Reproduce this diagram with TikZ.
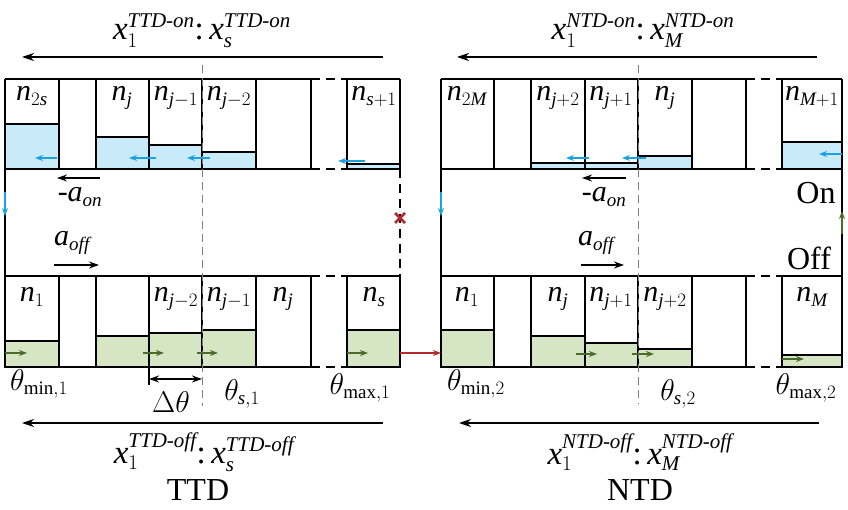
\documentclass[tikz,border=0pt]{standalone}
\usepackage{fix-cm}
\usepackage{amsmath}
\usepackage{fontspec}
\setmainfont{Liberation Serif}
\DeclareMathSizes{30}{30}{19}{14}
\DeclareMathSizes{33}{33}{21}{15}
\newcommand\tv[1]{\mathit{#1}}
\usetikzlibrary{arrows.meta}
\definecolor{bfill}{HTML}{C9EAF8}
\definecolor{barrow}{HTML}{1BA1E2}
\definecolor{gfill}{HTML}{D6E6C4}
\definecolor{garrow}{HTML}{4B6B2B}
\definecolor{rarrow}{HTML}{B22A2E}
\begin{document}
\begin{tikzpicture}[x=1pt,y=-1pt,
  cellline/.style={draw=black,line width=1.1pt},
  gapline/.style={draw=black,line width=1.1pt,dash pattern=on 9pt off 6pt},
  bluebar/.style={fill=bfill,draw=black,line width=1.1pt},
  greenbar/.style={fill=gfill,draw=black,line width=1.1pt},
  mlbl/.style={font=\fontsize{30}{32}\selectfont,inner sep=0pt},
  xlbl/.style={font=\fontsize{33}{35}\selectfont,inner sep=0pt},
  tlbl/.style={font=\fontsize{32}{34}\selectfont,inner sep=0pt},
  bigarrow/.style={line width=1.3pt,-{Stealth[length=12pt,width=8pt]}},
  midarrow/.style={line width=1.3pt,-{Stealth[length=10pt,width=7pt]}},
  barr/.style={draw=barrow,line width=1.4pt,-{Stealth[length=8pt,width=6pt]}},
  garr/.style={draw=garrow,line width=1.4pt,-{Stealth[length=8pt,width=6pt]}},
  sline/.style={draw=gray,line width=0.8pt,dash pattern=on 8pt off 5pt}
]
\useasboundingbox (0,0) rectangle (848,510);

% ---------- fills ----------
\foreach \a/\b/\c in {5/124/59, 96/137/149, 149/145/202, 202/152/256, 347/164/400}
  \draw[bluebar] (\a,\b) rectangle (\c,169);
\foreach \a/\b/\c in {531/163/585, 585/163/638, 638/156/692, 782/142/842}
  \draw[bluebar] (\a,\b) rectangle (\c,169);
\foreach \a/\b/\c in {5/341/59, 96/336/149, 149/333/202, 202/330/256, 347/330/400}
  \draw[greenbar] (\a,\b) rectangle (\c,367);
\foreach \a/\b/\c in {441/330/494, 531/336/585, 585/343/638, 638/349/692, 782/355/842}
  \draw[greenbar] (\a,\b) rectangle (\c,367);

% ---------- left panel grid ----------
\foreach \y in {79,169,276,367} {
  \draw[cellline] (5,\y) -- (311,\y);
  \draw[gapline] (311,\y) -- (347,\y);
  \draw[cellline] (347,\y) -- (400,\y);
}
\foreach \x in {5,59,96,149,202,256,311,347,400} {
  \draw[cellline] (\x,79) -- (\x,169);
  \draw[cellline] (\x,276) -- (\x,367);
}
\draw[cellline] (5,169) -- (5,276);
\draw[gapline] (400,169) -- (400,276);

% ---------- right panel grid ----------
\foreach \y in {79,169,276,367} {
  \draw[cellline] (441,\y) -- (746,\y);
  \draw[gapline] (746,\y) -- (782,\y);
  \draw[cellline] (782,\y) -- (842,\y);
}
\foreach \x in {441,494,531,585,638,692,746,782,842} {
  \draw[cellline] (\x,79) -- (\x,169);
  \draw[cellline] (\x,276) -- (\x,367);
}
\draw[cellline] (441,169) -- (441,276);
\draw[cellline] (842,169) -- (842,276);

% ---------- switching lines ----------
\draw[sline] (202,65) -- (202,406);
\draw[sline] (638,65) -- (638,404);

% ---------- cell labels ----------
\node[mlbl,anchor=base] (l2s) at (32,101) {$\tv{n}_{2\tv{s}}$};
\node[mlbl,anchor=base] (ljt) at (122,101) {$\tv{n}_{\tv{j}}$};
\node[mlbl,anchor=base] (ljm1t) at (176,101) {$\tv{n}_{\tv{j}-1}$};
\node[mlbl,anchor=base] (ljm2t) at (229,101) {$\tv{n}_{\tv{j}-2}$};
\node[mlbl,anchor=base] (lsp1) at (374,101) {$\tv{n}_{\tv{s}+1}$};
\node[mlbl,anchor=base] (l1) at (32,302) {$\tv{n}_{1}$};
\node[mlbl,anchor=base] (ljm2b) at (176,302) {$\tv{n}_{\tv{j}-2}$};
\node[mlbl,anchor=base] (ljm1b) at (229,302) {$\tv{n}_{\tv{j}-1}$};
\node[mlbl,anchor=base] (ljb) at (283,302) {$\tv{n}_{\tv{j}}$};
\node[mlbl,anchor=base] (ls) at (374,302) {$\tv{n}_{\tv{s}}$};

\node[mlbl,anchor=base] (r2M) at (467,101) {$\tv{n}_{2\tv{M}}$};
\node[mlbl,anchor=base] (rjp2t) at (558,101) {$\tv{n}_{\tv{j}+2}$};
\node[mlbl,anchor=base] (rjp1t) at (611,101) {$\tv{n}_{\tv{j}+1}$};
\node[mlbl,anchor=base] (rjt) at (665,101) {$\tv{n}_{\tv{j}}$};
\node[mlbl,anchor=base] (rMp1) at (812,101) {$\tv{n}_{\tv{M}+1}$};
\node[mlbl,anchor=base] (r1) at (467,302) {$\tv{n}_{1}$};
\node[mlbl,anchor=base] (rjb) at (558,302) {$\tv{n}_{\tv{j}}$};
\node[mlbl,anchor=base] (rjp1b) at (611,302) {$\tv{n}_{\tv{j}+1}$};
\node[mlbl,anchor=base] (rjp2b) at (665,302) {$\tv{n}_{\tv{j}+2}$};
\node[mlbl,anchor=base] (rM) at (812,302) {$\tv{n}_{\tv{M}}$};

% ---------- small flow arrows ----------
\foreach \a/\b/\y in {57/35/158, 156/129/158, 210/187/158, 365/338/161, 589/566/158, 646/622/158, 842/819/154}
  \draw[barr] (\a,\y) -- (\b,\y);
\foreach \a/\b/\y in {5/27/353, 143/164/353, 197/218/353, 347/368/353, 576/597/354, 632/654/354, 782/804/359}
  \draw[garr] (\a,\y) -- (\b,\y);
\draw[barr] (5,192) -- (5,216);
\draw[barr] (441,192) -- (441,216);
\draw[garr] (842,234) -- (842,211);
\draw[draw=rarrow,line width=1.4pt,-{Stealth[length=8pt,width=6pt]}] (400,353) -- (441,353);
\draw[draw=rarrow,line width=2.6pt] (395,213) -- (405,223) (395,223) -- (405,213);

% ---------- acceleration arrows ----------
\node[mlbl] (aonL) at (80,197) {$\text{-}\tv{a}_{\tv{on}}$};
\node[mlbl] (aoffL) at (72,243) {$\tv{a}_{\tv{off}}$};
\node[mlbl] (aonR) at (604,197) {$\text{-}\tv{a}_{\tv{on}}$};
\node[mlbl] (aoffR) at (596,243) {$\tv{a}_{\tv{off}}$};
\draw[midarrow] (100,178) -- (57,178);
\draw[midarrow] (54,265) -- (99,265);
\draw[midarrow] (626,178) -- (582,178);
\draw[midarrow] (581,265) -- (624,265);

\node[tlbl] (on) at (816,193) {On};
\node[tlbl] (off) at (809,258) {Off};

% ---------- theta labels ----------
\draw[line width=1.1pt] (149,367) -- (149,385);
\draw[line width=1.3pt,{Stealth[length=10pt,width=7pt]}-{Stealth[length=10pt,width=7pt]}] (149,379) -- (202,379);
\node[mlbl] (dth) at (171,402) {$\Delta\theta$};
\node[mlbl] (thmin1) at (39,384) {$\theta_{\min,1}$};
\node[mlbl] (ths1) at (242,394) {$\theta_{\tv{s},1}$};
\node[mlbl] (thmax1) at (360,388) {$\theta_{\max,1}$};
\node[mlbl] (thmin2) at (476,384) {$\theta_{\min,2}$};
\node[mlbl] (ths2) at (678,394) {$\theta_{\tv{s},2}$};
\node[mlbl] (thmax2) at (806,388) {$\theta_{\max,2}$};

% ---------- position arrows ----------
\draw[bigarrow] (383,57) -- (22,57);
\draw[bigarrow] (817,57) -- (457,57);
\draw[bigarrow] (383,423) -- (22,423);
\draw[bigarrow] (819,423) -- (459,423);
\node[xlbl] (topL) at (202,31) {$\tv{x}_1^{\text{\itshape TTD-on}}\text{:}\,\tv{x}_{\tv{s}}^{\text{\itshape TTD-on}}$};
\node[xlbl] (topR) at (643,31) {$\tv{x}_1^{\text{\itshape NTD-on}}\text{:}\,\tv{x}_{\tv{M}}^{\text{\itshape NTD-on}}$};
\node[xlbl] (botL) at (204,452) {$\tv{x}_1^{\text{\itshape TTD-off}}\text{:}\,\tv{x}_{\tv{s}}^{\text{\itshape TTD-off}}$};
\node[xlbl] (botR) at (640,452) {$\tv{x}_1^{\text{\itshape NTD-off}}\text{:}\,\tv{x}_{\tv{M}}^{\text{\itshape NTD-off}}$};
\node[tlbl] (ttd) at (198,490) {TTD};
\node[tlbl] (ntd) at (640,490) {NTD};
\end{tikzpicture}
\end{document}
